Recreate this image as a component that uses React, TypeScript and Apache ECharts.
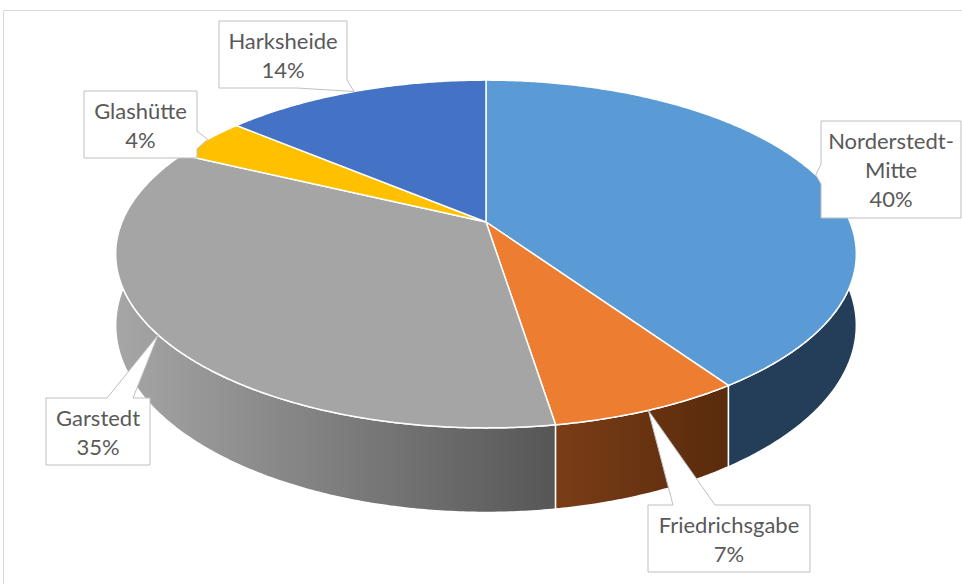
import React, { useEffect, useRef } from "react";
import * as echarts from "echarts";

// ---- data ----
const CATEGORIES = ["Norderstedt-Mitte", "Friedrichsgabe", "Garstedt", "Glashütte", "Harksheide"];
const LABEL_NAMES = ["Norderstedt-\nMitte", "Friedrichsgabe", "Garstedt", "Glashütte", "Harksheide"];
const VALUES = [40.45, 7.05, 34.6, 4.0, 13.9];
const TOP_COLORS = ["#5B9BD5", "#ED7D31", "#A5A5A5", "#FFC000", "#4472C4"];

// ---- geometry of the tilted pie (perspective projection) ----
const G = { cx: 486, cy: 222, A: 364, B: 168, p: 0.184, T: 69 };
function proj(theta: number, depth: number): number[] {
  const u = Math.cos(theta);
  const v = Math.sin(theta);
  const s = 1 / (1 - G.p * v);
  return [G.cx + G.A * u * s, G.cy + G.B * v * s + depth * s];
}

const TOTAL = VALUES.reduce((a, b) => a + b, 0);
const CUM: number[] = [];
VALUES.reduce((acc, v, i) => {
  CUM[i] = acc;
  return acc + v;
}, 0);
const angleOf = (x: number) => -Math.PI / 2 + (x / TOTAL) * Math.PI * 2;

const wallFill = (i: number) => {
  if (i === 0) return "#243E59";
  if (i === 1)
    return new echarts.graphic.LinearGradient(556, 0, 722, 0, [
      { offset: 0, color: "#7A3D17" },
      { offset: 1, color: "#5A2B0D" },
    ], true);
  if (i === 2)
    return new echarts.graphic.LinearGradient(116, 0, 556, 0, [
      { offset: 0, color: "#A6A6A6" },
      { offset: 1, color: "#565656" },
    ], true);
  if (i === 3) return "#7F6000";
  return "#2F528F";
};

// callout boxes: [left, top, right, bottom] and wedge base points on the box outline
const BOXES = [
  { box: [821, 121, 961, 218], side: "left", a: 164, b: 184 },
  { box: [648, 505, 810, 572], side: "top", a: 673, b: 715 },
  { box: [46, 398, 150, 465], side: "top", a: 107, b: 133 },
  { box: [84, 91, 197, 158], side: "right", a: 131, b: 149 },
  { box: [219, 21, 347, 88], side: "corner", a: 297, b: 80 },
];

function calloutPoints(i: number, tip: number[]) {
  const { box, side, a, b } = BOXES[i];
  const [l, t, r, bt] = box;
  if (side === "top") return [[l, t], [a, t], tip, [b, t], [r, t], [r, bt], [l, bt]];
  if (side === "right") return [[l, t], [r, t], [r, a], tip, [r, b], [r, bt], [l, bt]];
  if (side === "left") return [[l, t], [r, t], [r, bt], [l, bt], [l, b], tip, [l, a]];
  // bottom-right corner
  return [[l, t], [r, t], [r, b], tip, [a, bt], [l, bt]];
}

function arcPoints(a0: number, a1: number, depth: number) {
  const pts: number[][] = [];
  const n = Math.max(2, Math.ceil(((a1 - a0) * 180) / Math.PI / 0.5));
  for (let k = 0; k <= n; k++) pts.push(proj(a0 + ((a1 - a0) * k) / n, depth));
  return pts;
}

export default function App() {
  const ref = useRef<HTMLDivElement>(null);
  useEffect(() => {
    if (!ref.current) return;
    const chart = echarts.init(ref.current, undefined, { renderer: "svg" });
    const data = VALUES.map((v, i) => ({ name: CATEGORIES[i], value: [v, CUM[i]] }));

    const graphics: any[] = [
      {
        type: "rect",
        z: 0,
        silent: true,
        shape: { x: 3.5, y: 10.5, width: 1200, height: 1000 },
        style: { fill: "none", stroke: "#D9D9D9", lineWidth: 1 },
      },
    ];
    VALUES.forEach((v, i) => {
      const mid = angleOf(CUM[i] + v / 2);
      const tip = proj(mid, 0);
      const [l, t, r, bt] = BOXES[i].box;
      graphics.push({
        type: "polygon",
        z: 20,
        shape: { points: calloutPoints(i, tip) },
        style: { fill: "#FFFFFF", stroke: "#BFBFBF", lineWidth: 1 },
      });
      graphics.push({
        type: "text",
        z: 21,
        x: (l + r) / 2,
        y: (t + bt) / 2,
        style: {
          text: LABEL_NAMES[i] + "\n" + Math.round((v / TOTAL) * 100) + "%",
          fill: "#595959",
          fontFamily: "Lato",
          fontSize: 22,
          lineHeight: 29,
          align: "center",
          textAlign: "center",
          verticalAlign: "middle",
          textVerticalAlign: "middle",
        },
      });
    });

    chart.setOption({
      animation: false,
      backgroundColor: "#FFFFFF",
      series: [
        {
          type: "custom",
          coordinateSystem: "none",
          z: 1,
          silent: true,
          data,
          renderItem: (params: any, api: any) => {
            const i = params.dataIndex;
            const a0 = angleOf(api.value(1));
            const a1 = angleOf(api.value(1) + api.value(0));
            const top = arcPoints(a0, a1, 0);
            const bottom = arcPoints(a0, a1, G.T).reverse();
            const mid = (a0 + a1) / 2;
            return {
              type: "polygon",
              z2: Math.round(Math.sin(mid) * 100) + 200,
              shape: { points: top.concat(bottom) },
              style: { fill: wallFill(i), stroke: "#FFFFFF", lineWidth: 1.5, lineJoin: "round" },
            };
          },
        },
        {
          type: "custom",
          coordinateSystem: "none",
          z: 2,
          silent: true,
          data,
          renderItem: (params: any, api: any) => {
            const i = params.dataIndex;
            const a0 = angleOf(api.value(1));
            const a1 = angleOf(api.value(1) + api.value(0));
            const pts = [[G.cx, G.cy]].concat(arcPoints(a0, a1, 0));
            return {
              type: "polygon",
              shape: { points: pts },
              style: { fill: TOP_COLORS[i], stroke: "#FFFFFF", lineWidth: 1.5, lineJoin: "round" },
            };
          },
        },
      ],
      graphic: { elements: graphics },
    });
    return () => chart.dispose();
  }, []);
  return (
    <div
      ref={ref}
      style={{ position: "fixed", left: 0, top: 0, width: 962, height: 584 }}
    />
  );
}
